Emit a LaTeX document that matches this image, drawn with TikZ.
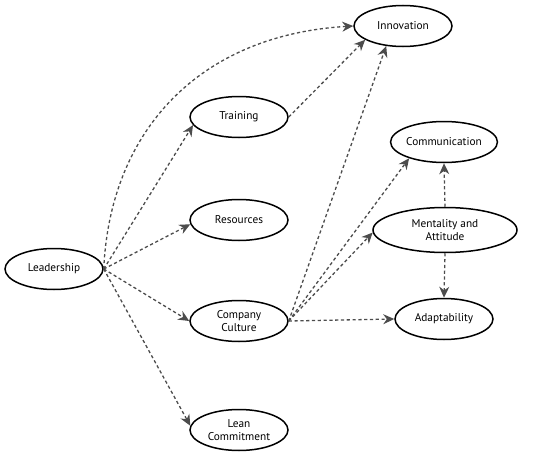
\documentclass[tikz,border=0pt]{standalone}
\usepackage{fontspec}
\setmainfont{PT Sans}
\usetikzlibrary{shapes.geometric,arrows.meta}
\begin{document}
\begin{tikzpicture}[x=1pt,y=-1pt,
  every node/.style={font=\fontsize{11.3}{13}\selectfont},
  factor/.style={ellipse,draw,line width=1.5pt,minimum width=98pt,minimum height=41pt,inner sep=0pt,align=center},
  link/.style={draw=black!70,line width=1.3pt,dash pattern=on 3.2pt off 2.6pt,-{Stealth[length=11pt,width=10pt]}}]
\useasboundingbox (0,0) rectangle (550,455);
% factors
\node[factor] (inn) at (403,26) {Innovation};
\node[factor] (trn) at (239,117) {Training};
\node[factor] (com) at (444,142) {Communication};
\node[factor] (res) at (239,220) {Resources};
\node[factor,minimum width=144pt,minimum height=45pt] (ment) at (445,230) {Mentality and\\Attitude};
\node[factor] (lead) at (54,269) {Leadership};
\node[factor] (cc) at (239,321) {Company\\Culture};
\node[factor] (adp) at (444,319) {Adaptability};
\node[factor] (lean) at (239,430) {Lean\\Commitment};
% leadership links
\draw[link] (lead.east) .. controls (110,130) and (200,35) .. (inn.west);
\foreach \dst/\ang in {trn/190,res/185,cc/180,lean/175}
  \draw[link] (lead.east) -- (\dst.\ang);
% culture links
\foreach \dst/\ang in {inn/230,com/205,ment/182,adp/180}
  \draw[link] (cc.east) -- (\dst.\ang);
\draw[link] (trn.east) -- (inn.200);
% mentality links
\draw[link] (ment.north) -- (com.south);
\draw[link] (ment.south) -- (adp.north);
\end{tikzpicture}
\end{document}
